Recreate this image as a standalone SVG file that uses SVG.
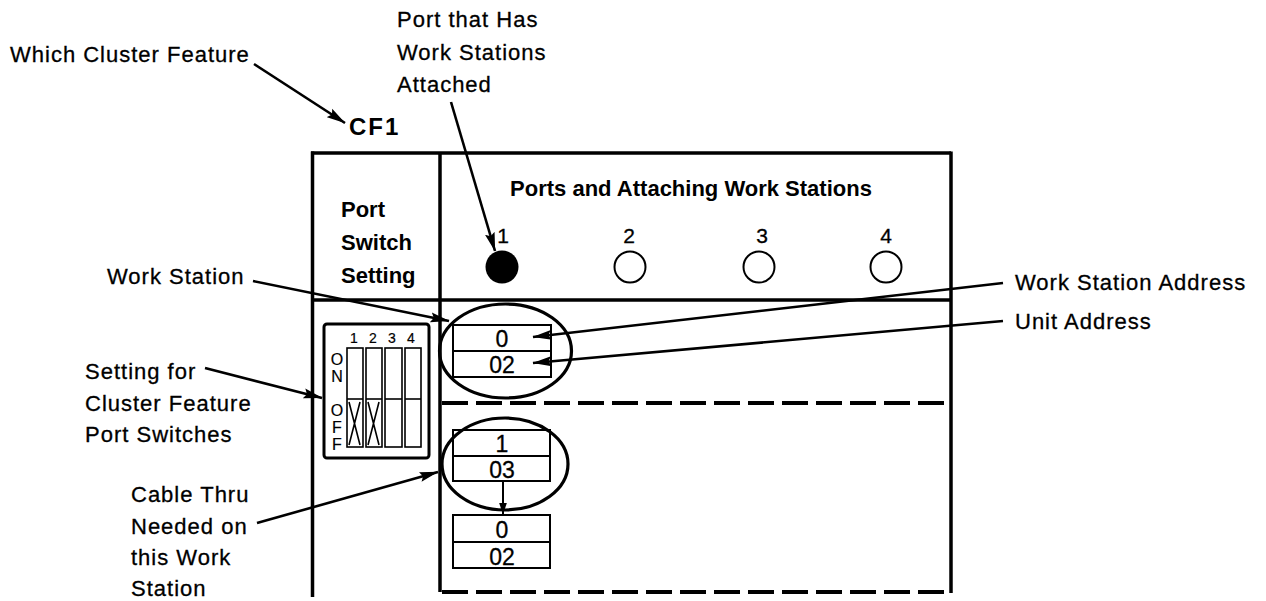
<svg xmlns="http://www.w3.org/2000/svg" width="1266" height="601" viewBox="0 0 1266 601">
<defs>
<marker id="ah" viewBox="0 0 19 11" refX="18.5" refY="5.5" markerWidth="19" markerHeight="11" markerUnits="userSpaceOnUse" orient="auto">
<path d="M0,0.5 L19,5.5 L0,10.5 L3,5.5 z" fill="#000"/>
</marker>
<marker id="ahs" viewBox="0 0 12 9" refX="11.5" refY="4.5" markerWidth="12" markerHeight="9" markerUnits="userSpaceOnUse" orient="auto">
<path d="M0,0.5 L12,4.5 L0,8.5 z" fill="#000"/>
</marker>
<style>
.t{font-family:"Liberation Sans",Arial,sans-serif;font-size:22px;letter-spacing:1px;fill:#000;stroke:#000;stroke-width:0.3}
.b{font-family:"Liberation Sans",Arial,sans-serif;font-size:22px;font-weight:bold;fill:#000}
.d{font-family:"Liberation Sans",Arial,sans-serif;font-size:23px;fill:#000;text-anchor:middle;stroke:#000;stroke-width:0.3}
.s{font-family:"Liberation Sans",Arial,sans-serif;font-size:14px;fill:#000;text-anchor:middle;stroke:#000;stroke-width:0.2}
.o{font-family:"Liberation Sans",Arial,sans-serif;font-size:16px;fill:#000;text-anchor:middle;stroke:#000;stroke-width:0.2}
.n{font-family:"Liberation Sans",Arial,sans-serif;font-size:21px;fill:#000;text-anchor:middle;stroke:#000;stroke-width:0.3}
.frame{fill:none;stroke:#000;stroke-width:3.5}
.dash{fill:none;stroke:#000;stroke-width:4;stroke-dasharray:26 8}
.box{fill:#fff;stroke:#000;stroke-width:2}
.ell{fill:none;stroke:#000;stroke-width:3.2}
.con{fill:none;stroke:#000;stroke-width:2.6}
.thin{fill:none;stroke:#000;stroke-width:1.6}
</style>
</defs>
<rect width="1266" height="601" fill="#fff"/>

<g id="frame">
<line class="frame" x1="311" y1="153" x2="951" y2="153"/>
<line class="frame" x1="312.5" y1="151.5" x2="312.5" y2="597"/>
<line class="frame" x1="440" y1="153" x2="440" y2="592"/>
<line class="frame" x1="951" y1="151.5" x2="951" y2="593"/>
<line class="frame" x1="311" y1="300" x2="951" y2="300"/>
<line class="dash" x1="442" y1="403" x2="951" y2="403"/>
<line class="dash" x1="442" y1="592" x2="951" y2="592"/>
</g>

<g id="label-which-cf">
<text class="t" x="10" y="62">Which Cluster Feature</text>
</g>
<g id="cf1">
<text class="b" x="349" y="135" style="font-size:24px;letter-spacing:2px">CF1</text>
</g>
<g id="label-port-attached">
<text class="t" x="397" y="27">Port that Has</text>
<text class="t" x="397" y="60">Work Stations</text>
<text class="t" x="397" y="92">Attached</text>
</g>
<g id="port-switch-setting">
<text class="b" x="341" y="217">Port</text>
<text class="b" x="341" y="250">Switch</text>
<text class="b" x="341" y="283">Setting</text>
</g>
<g id="ports-title">
<text class="b" x="691" y="196" text-anchor="middle">Ports and Attaching Work Stations</text>
</g>
<g id="port1">
<text class="n" x="503" y="243">1</text>
<circle cx="502" cy="267" r="16.5" fill="#000"/>
</g>
<g id="port2">
<text class="n" x="629" y="243">2</text>
<circle cx="630" cy="267" r="15.5" fill="none" stroke="#000" stroke-width="2"/>
</g>
<g id="port3">
<text class="n" x="762" y="243">3</text>
<circle cx="759" cy="267" r="15.5" fill="none" stroke="#000" stroke-width="2"/>
</g>
<g id="port4">
<text class="n" x="886" y="243">4</text>
<circle cx="886" cy="267" r="15.5" fill="none" stroke="#000" stroke-width="2"/>
</g>

<g id="label-work-station">
<text class="t" x="107" y="284">Work Station</text>
</g>
<g id="label-ws-address">
<text class="t" x="1015" y="290">Work Station Address</text>
</g>
<g id="label-unit-address">
<text class="t" x="1015" y="329">Unit Address</text>
</g>
<g id="label-setting">
<text class="t" x="85" y="379">Setting for</text>
<text class="t" x="85" y="411">Cluster Feature</text>
<text class="t" x="85" y="442">Port Switches</text>
</g>
<g id="label-cable-thru">
<text class="t" x="131" y="502">Cable Thru</text>
<text class="t" x="131" y="534">Needed on</text>
<text class="t" x="131" y="565">this Work</text>
<text class="t" x="131" y="596">Station</text>
</g>

<g id="switch-box">
<rect x="324" y="324" width="105" height="134" rx="3" fill="none" stroke="#000" stroke-width="3"/>
<text class="s" x="354" y="343">1</text>
<text class="s" x="373" y="343">2</text>
<text class="s" x="392" y="343">3</text>
<text class="s" x="411" y="343">4</text>
<text class="o" x="337" y="365">O</text>
<text class="o" x="337" y="382">N</text>
<text class="o" x="337" y="416">O</text>
<text class="o" x="337" y="433">F</text>
<text class="o" x="337" y="450">F</text>
<rect class="thin" x="347" y="348" width="16" height="99"/>
<rect class="thin" x="366" y="348" width="16" height="99"/>
<rect class="thin" x="385" y="348" width="17" height="99"/>
<rect class="thin" x="405" y="348" width="16" height="99"/>
<line class="thin" x1="347" y1="399" x2="363" y2="399"/>
<line class="thin" x1="366" y1="399" x2="382" y2="399"/>
<line class="thin" x1="385" y1="399" x2="402" y2="399"/>
<line class="thin" x1="405" y1="399" x2="421" y2="399"/>
<path class="thin" d="M349,402 L360,445 M360,402 L349,445 M368,402 L379,445 M379,402 L368,445"/>
</g>

<g id="ws1">
<rect class="box" x="453" y="325" width="98" height="52"/>
<line class="box" x1="453" y1="351" x2="551" y2="351"/>
<text class="d" x="502" y="347">0</text>
<text class="d" x="502" y="373">02</text>
<ellipse class="ell" cx="505.5" cy="351" rx="66" ry="47"/>
</g>
<g id="ws2">
<rect class="box" x="453" y="430" width="97" height="51"/>
<line class="box" x1="453" y1="456" x2="550" y2="456"/>
<text class="d" x="502" y="452">1</text>
<text class="d" x="502" y="478">03</text>
<ellipse class="ell" cx="505" cy="464" rx="63" ry="46"/>
</g>
<g id="ws3">
<rect class="box" x="453" y="515" width="97" height="53"/>
<line class="box" x1="453" y1="542" x2="550" y2="542"/>
<text class="d" x="502" y="538">0</text>
<text class="d" x="502" y="565">02</text>
</g>

<g id="connectors">
<line class="con" x1="254" y1="64" x2="345" y2="123" marker-end="url(#ah)"/>
<line class="con" x1="451" y1="102" x2="495" y2="251" marker-end="url(#ah)"/>
<line class="con" x1="253" y1="281" x2="449" y2="321" marker-end="url(#ah)"/>
<line class="con" x1="1003" y1="283" x2="533" y2="337" marker-end="url(#ah)"/>
<line class="con" x1="1003" y1="321" x2="533" y2="363" marker-end="url(#ah)"/>
<line class="con" x1="205" y1="368" x2="322" y2="398" marker-end="url(#ah)"/>
<line class="con" x1="257" y1="523" x2="438" y2="472" marker-end="url(#ah)"/>
<line class="thin" x1="503" y1="481" x2="503" y2="514" marker-end="url(#ahs)" style="stroke-width:2"/>
</g>
</svg>
